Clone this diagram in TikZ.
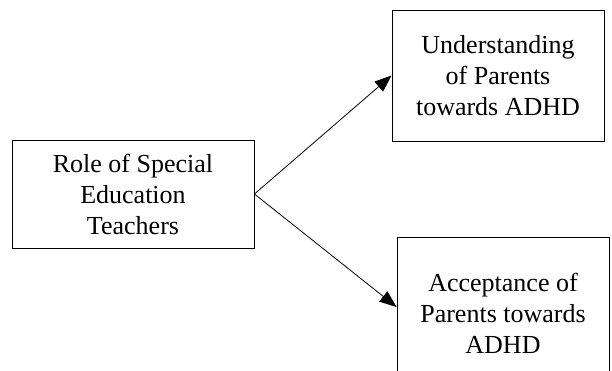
\documentclass[tikz,border=0pt]{standalone}
\usepackage{fontspec}
\setmainfont{Liberation Serif}
\usepackage{tikz}
\usetikzlibrary{arrows.meta}

\begin{document}
\begin{tikzpicture}[x=1pt,y=1pt,yscale=-1,
    box/.style={draw,line width=0.9pt,align=center,inner sep=0pt,font=\fontsize{26}{31}\selectfont},
    link/.style={line width=0.8pt,-{Triangle[length=17pt,width=13pt]}}]
                        \useasboundingbox (0,0) rectangle (612,371);

                        % Shape: Rectangle [left]
                        \node [box,minimum width=242,minimum height=108] (role) at (133,194) {Role of Special\\Education\\Teachers};
                        % Shape: Rectangle [top right]
                        \node [box,minimum width=212,minimum height=131] (understanding) at (498,75.5) {Understanding\\of Parents\\towards ADHD};
                        % Shape: Rectangle [bottom right]
                        \node [box,minimum width=212,minimum height=152] (acceptance) at (503,313) {Acceptance of\\Parents towards\\ADHD};

                        % Arrows
                        \draw [link] (role.east) -- (understanding.west);
                        \draw [link] (role.east) -- ([yshift=-6]acceptance.west);
                    \end{tikzpicture}
\end{document}
